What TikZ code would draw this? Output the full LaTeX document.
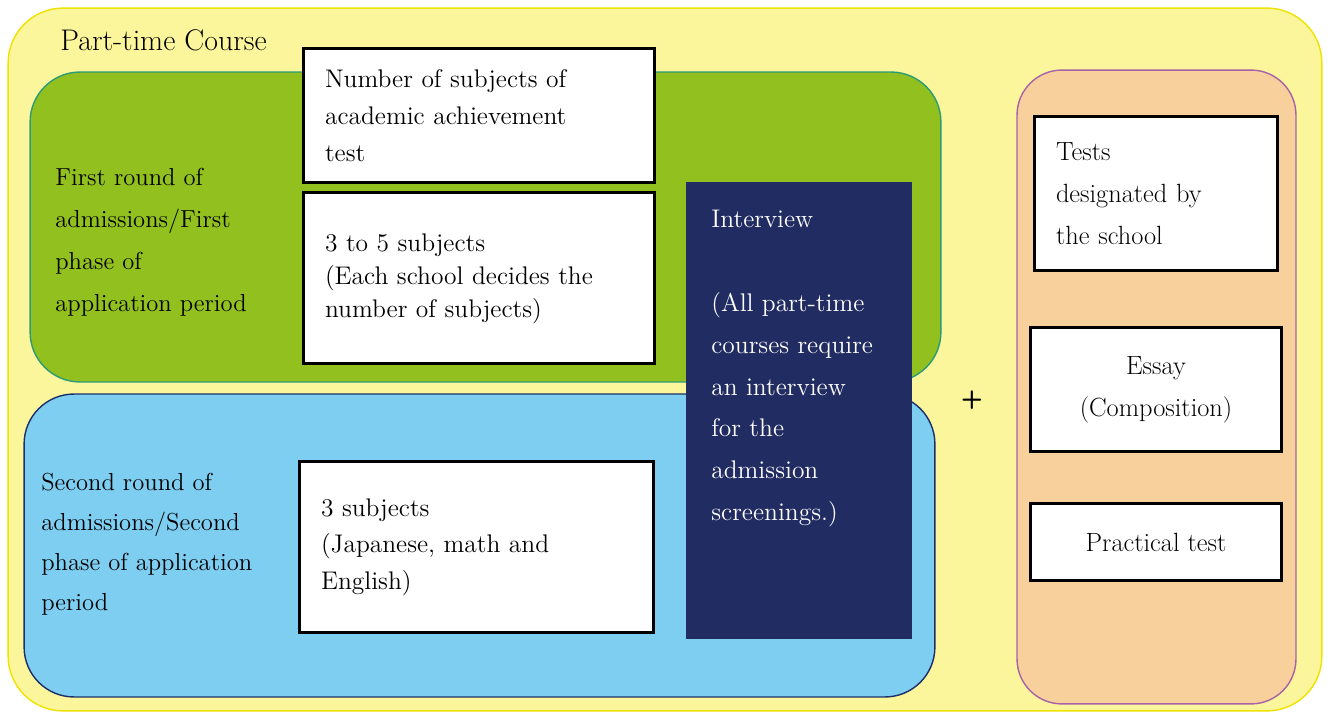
\documentclass[tikz,border=0pt]{standalone}
\usepackage{tikz}
\usetikzlibrary{positioning}
\definecolor{courseyellow}{HTML}{FBF59B}
\definecolor{courseedge}{HTML}{F0E200}
\definecolor{roundgreen}{HTML}{92C11F}
\definecolor{greenedge}{HTML}{2C9B78}
\definecolor{roundblue}{HTML}{7ECEF2}
\definecolor{blueedge}{HTML}{1D2F6A}
\definecolor{extraorange}{HTML}{F7D09B}
\definecolor{orangeedge}{HTML}{A862A8}
\definecolor{interviewnavy}{HTML}{212D62}
\tikzset{
every node/.style={font=\fontsize{14.5}{21}\selectfont}, % default text size for the whole chart
panel/.style={rounded corners=1cm, line width=0.8pt, inner sep=0pt}, % the big rounded areas
subjbox/.style={draw=black, line width=1.7pt, fill=white, align=left, inner xsep=0.44cm, inner ysep=0pt}, % white boxes with thick frame
label/.style={align=left, anchor=west, inner sep=0pt}, % free text on the coloured areas
}

\begin{document}
\begin{tikzpicture}[x=0.02cm, y=-0.02cm]
        \useasboundingbox (0,0) rectangle (1329,713);

        % Background areas
        \node[panel, rounded corners=1.1cm, draw=courseedge, fill=courseyellow, minimum width=26.28cm, minimum height=14.06cm] (course) at (665,359.5) {};
        \node[panel, draw=greenedge, fill=roundgreen, minimum width=18.22cm, minimum height=6.2cm] (firstround) at (485.5,227) {};
        \node[panel, draw=blueedge, fill=roundblue, minimum width=18.22cm, minimum height=6.06cm] (secondround) at (479.5,545.5) {};
        \node[panel, rounded corners=0.9cm, draw=orangeedge, fill=extraorange, minimum width=5.58cm, minimum height=12.68cm] (extras) at (1156.5,387) {};

        \node[label, font=\fontsize{17}{20}\selectfont] (coursetitle) at (60,40) {Part-time Course};

        % Academic achievement test
        \node[subjbox, minimum width=7.04cm, minimum height=2.7cm, text width=6.16cm] (numsubj) at (479,115.5) {Number of subjects of\\academic achievement\\test};
        \node[subjbox, below=0.14cm of numsubj, minimum width=7.04cm, minimum height=3.42cm, text width=6.16cm, font=\fontsize{14.5}{18.8}\selectfont] (threetofive) {3 to 5 subjects\\(Each school decides the\\number of subjects)};
        \node[subjbox, minimum width=7.1cm, minimum height=3.44cm, text width=6.22cm, font=\fontsize{14.5}{20.7}\selectfont] (threesubj) at (476.5,547) {3 subjects\\(Japanese, math and\\English)};

        \node[label, font=\fontsize{14}{24}\selectfont] (firstlabel) at (55,242) {First round of\\admissions/First\\phase of\\application period};
        \node[label, font=\fontsize{14}{22.7}\selectfont] (secondlabel) at (41,544) {Second round of\\admissions/Second\\phase of application\\period};

        % Interview
        \node[fill=interviewnavy, inner sep=0pt, minimum width=4.52cm, minimum height=9.14cm] (interview) at (799,410.5) {};
        \node[anchor=north west, inner sep=0pt, align=left, text=white, font=\fontsize{14.5}{23.8}\selectfont] (interviewtext) at (711,210) {Interview\\[23.8pt](All part-time\\courses require\\an interview\\for the\\admission\\screenings.)};

        \node[font=\Large\sffamily\bfseries] (plus) at (972,400) {+};

        % Tests designated by the school
        \node[subjbox, minimum width=4.88cm, minimum height=3.1cm, text width=4.0cm, font=\fontsize{15}{24}\selectfont] (schooltests) at (1156,193.5) {Tests\\designated by\\the school};
        \node[subjbox, below=1.08cm of schooltests, minimum width=5.04cm, minimum height=2.48cm, align=center, font=\fontsize{15}{24}\selectfont] (essay) {Essay\\(Composition)};
        \node[subjbox, below=0.98cm of essay, minimum width=5.04cm, minimum height=1.54cm, align=center, font=\fontsize{15}{20}\selectfont] (practical) {Practical test};
    \end{tikzpicture}
\end{document}
